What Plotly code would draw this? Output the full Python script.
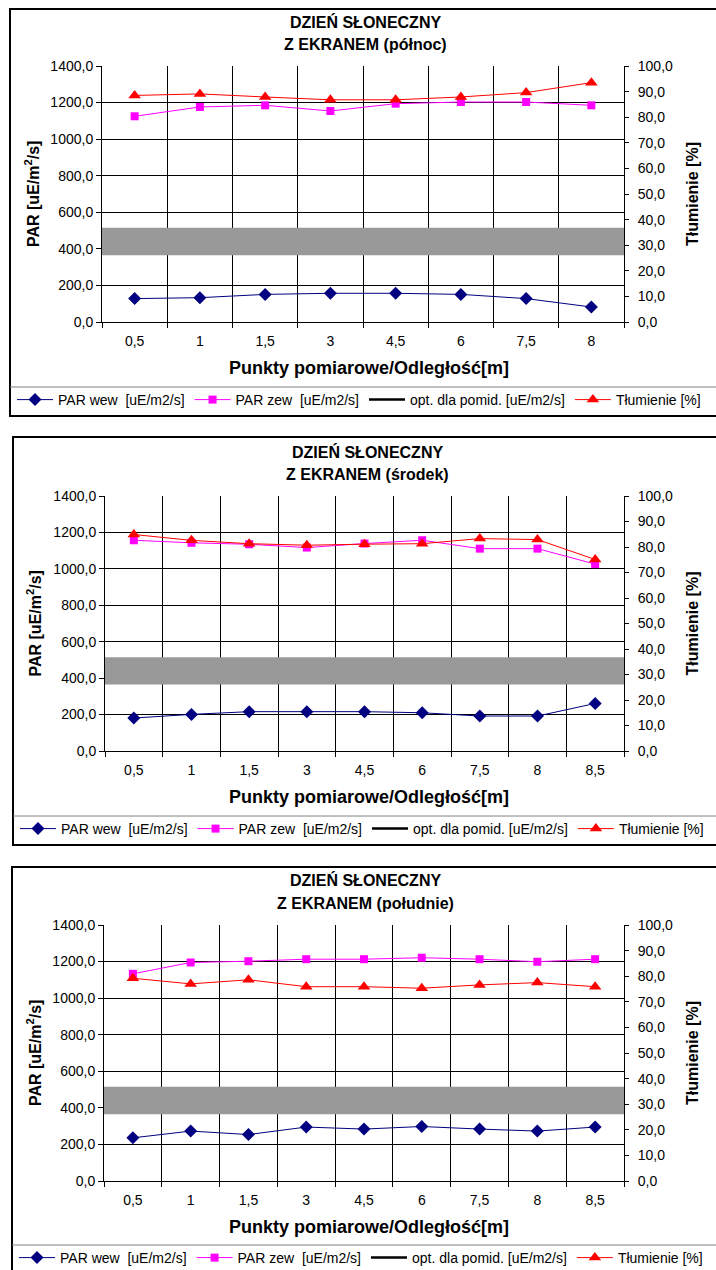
import plotly.graph_objects as go

W, H = 716, 1270

# ---------------- data ----------------
titles_line1 = ["DZIEŃ SŁONECZNY", "DZIEŃ SŁONECZNY", "DZIEŃ SŁONECZNY"]
titles_line2 = ["Z EKRANEM (północ)", "Z EKRANEM (środek)", "Z EKRANEM (południe)"]

cats_north = ["0,5", "1", "1,5", "3", "4,5", "6", "7,5", "8"]
par_wew_north = [128, 133, 151, 157, 157, 151, 128, 82]
par_zew_north = [1125, 1176, 1185, 1154, 1194, 1203, 1203, 1185]
tlum_north = [88.5, 89.1, 87.9, 86.8, 86.8, 87.9, 89.6, 93.5]

cats_mid = ["0,5", "1", "1,5", "3", "4,5", "6", "7,5", "8", "8,5"]
par_wew_mid = [181, 201, 216, 216, 216, 210, 192, 192, 261]
par_zew_mid = [1157, 1143, 1135, 1117, 1139, 1157, 1111, 1111, 1026]
tlum_mid = [84.9, 82.6, 81.3, 80.7, 81.1, 81.3, 83.3, 82.9, 75.1]

cats_south = ["0,5", "1", "1,5", "3", "4,5", "6", "7,5", "8", "8,5"]
par_wew_south = [236, 273, 254, 295, 284, 298, 284, 273, 295]
par_zew_south = [1133, 1195, 1202, 1213, 1213, 1221, 1213, 1199, 1213]
tlum_south = [79.2, 77.0, 78.6, 75.9, 75.9, 75.3, 76.6, 77.5, 75.9]

# optimal PAR band for tomato (opt. dla pomid.)
opt_low = 365
opt_high = 515

par_range = [0, 1400]
tlum_range = [0, 100]

names = ["PAR wew  [uE/m2/s]", "PAR zew  [uE/m2/s]",
         "opt. dla pomid. [uE/m2/s]", "Tłumienie [%]"]

# ---------------- layout geometry (pixels) ----------------
charts = [
    dict(cats=cats_north, wew=par_wew_north, zew=par_zew_north, tl=tlum_north,
         border_top=9, border_left=10, plot_left=102, plot_top=66, plot_bottom=322,
         title_y=(22, 44), title_x=365, xtitle_y=368, sep_y=387, legend_y=400, border_bottom=416),
    dict(cats=cats_mid, wew=par_wew_mid, zew=par_zew_mid, tl=tlum_mid,
         border_top=437, border_left=13, plot_left=105, plot_top=496, plot_bottom=751,
         title_y=(452, 474), title_x=367, xtitle_y=797, sep_y=816, legend_y=829, border_bottom=845),
    dict(cats=cats_south, wew=par_wew_south, zew=par_zew_south, tl=tlum_south,
         border_top=867, border_left=12, plot_left=104, plot_top=925, plot_bottom=1181,
         title_y=(880, 903), title_x=365, xtitle_y=1227, sep_y=1245, legend_y=1258, border_bottom=1290),
]
PLOT_RIGHT = 624


def px(x):
    return x / W


def py(y):
    return 1 - y / H


FONT = "Arial, Liberation Sans, sans-serif"
fig = go.Figure()
annotations = []
shapes = []
layout = dict(
    width=W, height=H,
    margin=dict(l=0, r=0, t=0, b=0, autoexpand=False),
    paper_bgcolor="white", plot_bgcolor="white",
    separators=",.",
    font=dict(family=FONT, size=14, color="black"),
    showlegend=True,
)

for i, c in enumerate(charts):
    n = i + 1
    xa = "x" if n == 1 else f"x{n}"
    yl = "y" if n == 1 else f"y{2 * n - 1}"
    yr = f"y{2 * n}"
    lg = "legend" if n == 1 else f"legend{n}"

    xkey = "xaxis" if n == 1 else f"xaxis{n}"
    ylkey = "yaxis" if n == 1 else f"yaxis{2 * n - 1}"
    yrkey = f"yaxis{2 * n}"

    dom_x = [px(c["plot_left"]), px(PLOT_RIGHT)]
    dom_y = [py(c["plot_bottom"]), py(c["plot_top"])]

    layout[xkey] = dict(
        domain=dom_x, anchor=yl, type="category",
        categoryorder="array", categoryarray=c["cats"],
        range=[-0.5, len(c["cats"]) - 0.5],
        tickson="boundaries", ticks="outside", ticklen=5, tickcolor="black",
        showgrid=True, gridcolor="black", gridwidth=1,
        showline=True, linecolor="black", linewidth=1,
        tickfont=dict(size=14), ticklabelstandoff=6, fixedrange=True,
    )
    layout[ylkey] = dict(
        domain=dom_y, anchor=xa, range=par_range, dtick=200, tickformat=".1f",
        ticks="outside", ticklen=5, tickcolor="black",
        showgrid=True, gridcolor="black", gridwidth=1, zeroline=False,
        showline=True, linecolor="black", linewidth=1,
        tickfont=dict(size=14), fixedrange=True,
    )
    layout[yrkey] = dict(
        domain=dom_y, anchor=xa, overlaying=yl, side="right",
        range=tlum_range, dtick=10, tickformat=".1f",
        ticks="outside", ticklen=4, tickcolor="black",
        showgrid=False, zeroline=False,
        showline=True, linecolor="black", linewidth=1,
        tickfont=dict(size=14), ticklabelstandoff=6, fixedrange=True,
    )
    layout[lg] = dict(
        orientation="h", x=px(c["border_left"] + 2), xanchor="left",
        y=py(c["legend_y"]), yanchor="middle",
        bgcolor="rgba(0,0,0,0)", borderwidth=0,
        font=dict(size=14, family=FONT), itemwidth=36, traceorder="normal",
    )

    fig.add_trace(go.Scatter(
        x=c["cats"], y=c["wew"], name=names[0], xaxis=xa, yaxis=yl, legend=lg,
        mode="lines+markers", line=dict(color="#000080", width=1),
        marker=dict(symbol="diamond", size=10, color="#000080")))
    fig.add_trace(go.Scatter(
        x=c["cats"], y=c["zew"], name=names[1], xaxis=xa, yaxis=yl, legend=lg,
        mode="lines+markers", line=dict(color="#FF00FF", width=1),
        marker=dict(symbol="square", size=8, color="#FF00FF")))
    fig.add_trace(go.Scatter(
        x=[None], y=[None], name=names[2], xaxis=xa, yaxis=yl, legend=lg,
        mode="lines", line=dict(color="black", width=2.5)))
    fig.add_trace(go.Scatter(
        x=c["cats"], y=c["tl"], name=names[3], xaxis=xa, yaxis=yr, legend=lg,
        mode="lines+markers", line=dict(color="#FF0000", width=1),
        marker=dict(symbol="triangle-up", size=11, color="#FF0000")))

    # optimum band
    shapes.append(dict(type="rect", xref=f"{xa} domain", yref=yl,
                       x0=0, x1=1, y0=opt_low, y1=opt_high,
                       fillcolor="#999999", line=dict(width=0), layer="above"))
    # chart border
    shapes.append(dict(type="rect", xref="paper", yref="paper",
                       x0=px(c["border_left"]), x1=px(W + 10),
                       y0=py(c["border_bottom"]), y1=py(c["border_top"]),
                       line=dict(color="#000000", width=2), fillcolor="rgba(0,0,0,0)",
                       layer="below"))
    # legend separator
    shapes.append(dict(type="line", xref="paper", yref="paper",
                       x0=px(c["border_left"]), x1=px(W + 10),
                       y0=py(c["sep_y"]), y1=py(c["sep_y"]),
                       line=dict(color="#808080", width=1)))

    # titles
    annotations.append(dict(text=f"<b>{titles_line1[i]}</b>", xref="paper", yref="paper",
                            x=px(c["title_x"]), y=py(c["title_y"][0]),
                            xanchor="center", yanchor="middle", showarrow=False,
                            font=dict(size=16, family=FONT)))
    annotations.append(dict(text=f"<b>{titles_line2[i]}</b>", xref="paper", yref="paper",
                            x=px(c["title_x"]), y=py(c["title_y"][1]),
                            xanchor="center", yanchor="middle", showarrow=False,
                            font=dict(size=16, family=FONT)))
    mid_y = (c["plot_top"] + c["plot_bottom"]) / 2
    annotations.append(dict(text="<b>PAR [uE/m<sup>2</sup>/s]</b>", xref="paper", yref="paper",
                            x=px(c["border_left"] + 22), y=py(mid_y),
                            xanchor="center", yanchor="middle", showarrow=False,
                            textangle=-90, font=dict(size=16, family=FONT)))
    annotations.append(dict(text="<b>Tłumienie [%]</b>", xref="paper", yref="paper",
                            x=px(692), y=py(mid_y),
                            xanchor="center", yanchor="middle", showarrow=False,
                            textangle=-90, font=dict(size=16, family=FONT)))
    annotations.append(dict(text="<b>Punkty pomiarowe/Odległość[m]</b>", xref="paper", yref="paper",
                            x=px(369), y=py(c["xtitle_y"]),
                            xanchor="center", yanchor="middle", showarrow=False,
                            font=dict(size=18, family=FONT)))

layout["annotations"] = annotations
layout["shapes"] = shapes
fig.update_layout(**layout)

fig.write_html("out.html", config={"displayModeBar": False},
               post_script="document.body.style.margin='0';")
